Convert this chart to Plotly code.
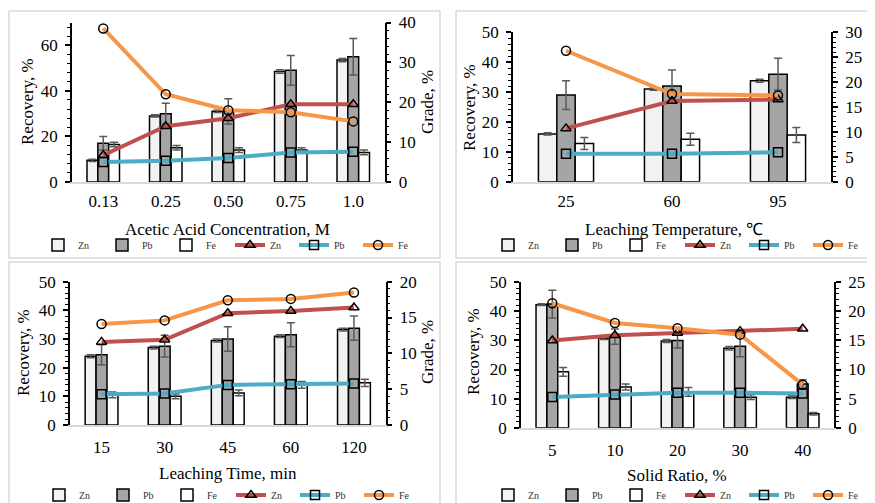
import plotly.graph_objects as go

# ---------------- data ----------------
conc_cats = ["0.13", "0.25", "0.50", "0.75", "1.0"]
conc_rec_zn = [9.5, 29.0, 31.0, 48.5, 53.5]
conc_rec_zn_err = [0.5, 0.5, 0.5, 0.8, 0.7]
conc_rec_pb = [17.0, 30.0, 31.0, 49.0, 55.0]
conc_rec_pb_err = [3.0, 4.6, 5.5, 6.5, 8.0]
conc_rec_fe = [16.5, 15.0, 14.0, 14.0, 13.0]
conc_rec_fe_err = [1.0, 1.0, 1.0, 1.0, 1.0]
conc_gr_zn = [6.7, 14.0, 16.0, 19.5, 19.5]
conc_gr_pb = [5.0, 5.3, 6.0, 7.4, 7.6]
conc_gr_fe = [38.5, 22.0, 18.0, 17.5, 15.2]

temp_cats = ["25", "60", "95"]
temp_rec_zn = [16.0, 31.0, 33.8]
temp_rec_zn_err = [0.4, 0.4, 0.5]
temp_rec_pb = [29.0, 32.0, 36.0]
temp_rec_pb_err = [4.8, 5.4, 5.3]
temp_rec_fe = [12.8, 14.2, 15.6]
temp_rec_fe_err = [2.0, 2.0, 2.5]
temp_gr_zn = [10.7, 16.2, 16.5]
temp_gr_pb = [5.6, 5.6, 5.9]
temp_gr_fe = [26.3, 17.6, 17.3]

time_cats = ["15", "30", "45", "60", "120"]
time_rec_zn = [24.0, 27.0, 29.5, 31.0, 33.3]
time_rec_zn_err = [0.5, 0.5, 0.5, 0.5, 0.5]
time_rec_pb = [24.5, 27.5, 30.0, 31.5, 33.8]
time_rec_pb_err = [3.5, 3.8, 4.3, 4.2, 4.2]
time_rec_fe = [10.5, 10.0, 11.2, 14.0, 14.7]
time_rec_fe_err = [1.0, 0.8, 1.0, 1.2, 1.3]
time_gr_zn = [11.6, 11.9, 15.6, 15.9, 16.4]
time_gr_pb = [4.3, 4.4, 5.6, 5.7, 5.8]
time_gr_fe = [14.1, 14.6, 17.4, 17.6, 18.5]

solid_cats = ["5", "10", "20", "30", "40"]
solid_rec_zn = [42.3, 30.8, 29.8, 27.3, 10.5]
solid_rec_zn_err = [0.3, 0.5, 0.5, 0.6, 0.5]
solid_rec_pb = [42.5, 31.3, 30.0, 28.0, 15.0]
solid_rec_pb_err = [4.8, 2.6, 2.6, 3.6, 1.5]
solid_rec_fe = [19.2, 14.0, 12.3, 10.5, 4.8]
solid_rec_fe_err = [1.5, 1.0, 1.5, 0.8, 0.4]
solid_gr_zn = [15.0, 15.9, 16.3, 16.6, 17.0]
solid_gr_pb = [5.3, 5.7, 6.0, 6.0, 5.9]
solid_gr_fe = [21.4, 18.0, 17.1, 16.0, 7.4]

x_titles = ["Acetic Acid Concentration, M", "Leaching Temperature, \u2103",
            "Leaching Time, min", "Solid Ratio, %"]
left_title = "Recovery, %"
right_title = "Grade, %"
left_ranges = [(0, 70, 20, 4), (0, 50, 10, 2), (0, 50, 10, 2), (0, 50, 10, 2)]
right_ranges = [(0, 40, 10, 2), (0, 30, 5, 1), (0, 20, 5, 1), (0, 25, 5, 1)]

panels = [
    (conc_cats, conc_rec_zn, conc_rec_zn_err, conc_rec_pb, conc_rec_pb_err, conc_rec_fe, conc_rec_fe_err,
     conc_gr_zn, conc_gr_pb, conc_gr_fe),
    (temp_cats, temp_rec_zn, temp_rec_zn_err, temp_rec_pb, temp_rec_pb_err, temp_rec_fe, temp_rec_fe_err,
     temp_gr_zn, temp_gr_pb, temp_gr_fe),
    (time_cats, time_rec_zn, time_rec_zn_err, time_rec_pb, time_rec_pb_err, time_rec_fe, time_rec_fe_err,
     time_gr_zn, time_gr_pb, time_gr_fe),
    (solid_cats, solid_rec_zn, solid_rec_zn_err, solid_rec_pb, solid_rec_pb_err, solid_rec_fe, solid_rec_fe_err,
     solid_gr_zn, solid_gr_pb, solid_gr_fe),
]

# ---------------- layout geometry ----------------
# The page body has an 8px margin, so the figure is 8px smaller than the window
# and every position below is given in window pixels, then shifted.
OFF = 8
W, H = 875 - OFF, 503 - OFF


def fx(px):
    return (px - OFF) / W


def fy(py):
    return 1 - (py - OFF) / H


plot_px = [  # x0, x1, ytop, ybottom (window pixels)
    (72, 384.5, 22.5, 182),
    (513, 831, 32.3, 181.7),
    (70, 385.5, 281.7, 425),
    (521, 834, 282.3, 427.7),
]
tick_standoff = [3, 3, 6, 6]
xtitle_px = [(228, 229), (674, 229), (228, 473), (677, 475)]
ltitle_px = [(27, 102), (470, 107), (23, 353), (473, 352)]
rtitle_px = [(427, 102), (875, 107), (427, 352), (875, 352)]
legend_px = [(38, 245), (488, 245), (39, 495), (488, 495)]
boxes_px = [(9, 11, 440, 258), (456, 11, 905, 258), (9, 262, 440, 530), (456, 262, 905, 530)]

FONT = "Liberation Serif"
bar_cols = {"Zn": "#F2F2F2", "Pb": "#A5A5A5", "Fe": "#FFFFFF"}
line_cols = {"Zn": "#C0504D", "Pb": "#4BACC6", "Fe": "#F79646"}
symbols = {"Zn": "triangle-up-open", "Pb": "square-open", "Fe": "circle-open"}

fig = go.Figure()
layout = dict(
    width=W, height=H, template="none",
    margin=dict(l=0, r=0, t=0, b=0, autoexpand=False),
    paper_bgcolor="white", plot_bgcolor="rgba(0,0,0,0)",
    barmode="group", bargap=0.48, bargroupgap=0.0,
    font=dict(family=FONT, size=17, color="black"),
    shapes=[], annotations=[],
)

for i, p in enumerate(panels):
    cats, rz, rze, rp, rpe, rf, rfe, gz, gp, gf = p
    xn = "x" if i == 0 else f"x{i+1}"
    yl = f"y{2*i+1}" if i > 0 else "y"
    yr = f"y{2*i+2}"
    leg = "legend" if i == 0 else f"legend{i+1}"
    for name, vals, errs in (("Zn", rz, rze), ("Pb", rp, rpe), ("Fe", rf, rfe)):
        fig.add_trace(go.Bar(
            x=cats, y=vals, name=name, xaxis=xn, yaxis=yl, legend=leg,
            marker=dict(color=bar_cols[name], line=dict(color="black", width=1.5)),
            error_y=dict(type="data", array=errs, color="#595959", thickness=1.5, width=4),
        ))
    for name, vals in (("Zn", gz), ("Pb", gp), ("Fe", gf)):
        fig.add_trace(go.Scatter(
            x=cats, y=vals, name=name, xaxis=xn, yaxis=yr, legend=leg,
            mode="lines+markers",
            line=dict(color=line_cols[name], width=4),
            marker=dict(symbol=symbols[name], size=9, color="black", line=dict(width=1.5)),
        ))

    x0, x1, yt, yb = plot_px[i]
    xdom = [fx(x0), fx(x1)]
    ydom = [fy(yb), fy(yt)]
    xkey = "xaxis" if i == 0 else f"xaxis{i+1}"
    ylkey = "yaxis" if i == 0 else f"yaxis{2*i+1}"
    yrkey = f"yaxis{2*i+2}"
    layout[xkey] = dict(
        domain=xdom, anchor=yl, type="category", showline=True, linecolor="#D9D9D9", linewidth=1.5,
        ticks="", showgrid=False, zeroline=False, ticklabelstandoff=tick_standoff[i],
        tickfont=dict(family=FONT, size=17), automargin=False, fixedrange=True,
    )
    lo, hi, dt, mdt = left_ranges[i]
    layout[ylkey] = dict(
        domain=ydom, anchor=xn, range=[lo, hi], dtick=dt, showline=True, linecolor="black", linewidth=1.5,
        ticks="outside", ticklen=5, tickwidth=1.5, tickcolor="black", showgrid=False, zeroline=False,
        minor=dict(dtick=mdt, ticks="outside", ticklen=3, tickwidth=1, tickcolor="black", showgrid=False),
        tickfont=dict(family=FONT, size=17), ticklabelstandoff=4,
        automargin=False, fixedrange=True,
    )
    lo, hi, dt, mdt = right_ranges[i]
    layout[yrkey] = dict(
        domain=ydom, anchor=xn, overlaying=yl, side="right", range=[lo, hi], dtick=dt,
        showline=True, linecolor="black", linewidth=1.5,
        ticks="outside", ticklen=5, tickwidth=1.5, tickcolor="black", showgrid=False, zeroline=False,
        minor=dict(dtick=mdt, ticks="outside", ticklen=3, tickwidth=1, tickcolor="black", showgrid=False),
        tickfont=dict(family=FONT, size=17), ticklabelstandoff=4,
        automargin=False, fixedrange=True,
    )
    # axis titles
    tx, ty = xtitle_px[i]
    layout["annotations"].append(dict(text=x_titles[i], x=fx(tx), y=fy(ty), xref="paper", yref="paper",
                                      xanchor="center", yanchor="middle", showarrow=False,
                                      font=dict(family=FONT, size=17, color="black")))
    tx, ty = ltitle_px[i]
    layout["annotations"].append(dict(text=left_title, x=fx(tx), y=fy(ty), xref="paper", yref="paper",
                                      xanchor="center", yanchor="middle", showarrow=False, textangle=-90,
                                      font=dict(family=FONT, size=17, color="black")))
    tx, ty = rtitle_px[i]
    layout["annotations"].append(dict(text=right_title, x=fx(tx), y=fy(ty), xref="paper", yref="paper",
                                      xanchor="center", yanchor="middle", showarrow=False, textangle=-90,
                                      font=dict(family=FONT, size=17, color="black")))
    lx, ly = legend_px[i]
    layout[leg] = dict(
        orientation="h", x=fx(lx), y=fy(ly), xanchor="left", yanchor="middle",
        xref="container", yref="container",
        entrywidth=19, entrywidthmode="pixels", itemwidth=30,
        font=dict(family=FONT, size=10, color="#333333"), bgcolor="rgba(0,0,0,0)",
        tracegroupgap=0, traceorder="normal",
    )
    bx0, by0, bx1, by1 = boxes_px[i]
    layout["shapes"].append(dict(
        type="rect", xref="paper", yref="paper", x0=fx(bx0), x1=fx(bx1), y0=fy(by1), y1=fy(by0),
        line=dict(color="#D9D9D9", width=1.5), fillcolor="rgba(0,0,0,0)", layer="below",
    ))

fig.update_layout(**layout)
fig.write_html("out.html")
